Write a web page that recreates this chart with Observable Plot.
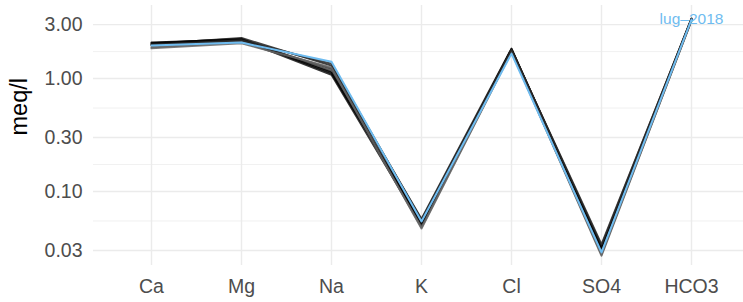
<!DOCTYPE html>
<html>
<head>
<meta charset="utf-8">
<script src="https://cdn.jsdelivr.net/npm/d3@7"></script>
<script src="https://cdn.jsdelivr.net/npm/@observablehq/plot@0.6"></script>
<style>
  html, body { margin: 0; padding: 0; background: #fff; }
  svg { display: block; }
</style>
</head>
<body>
<div id="chart"></div>
<script>
const ions = ["Ca", "Mg", "Na", "K", "Cl", "SO4", "HCO3"];
const yTicks = [0.03, 0.1, 0.3, 1, 3];
const yMinor = [0.0548, 0.1732, 0.5477, 1.732];

// grey/black samples (meq/l, one value per ion)
const sample1 = [2.05, 2.25, 1.15, 0.052, 1.82, 0.031, 3.35];
const sample2 = [2.00, 2.20, 1.08, 0.050, 1.80, 0.029, 3.30];
const sample3 = [1.95, 2.15, 1.22, 0.055, 1.78, 0.033, 3.40];
const sample4 = [2.02, 2.28, 1.30, 0.057, 1.84, 0.030, 3.32];
const sample5 = [1.88, 2.10, 1.18, 0.048, 1.75, 0.027, 3.28];
const sample6 = [2.08, 2.22, 1.12, 0.053, 1.81, 0.032, 3.36];
const sample7 = [1.85, 2.05, 1.25, 0.047, 1.72, 0.028, 3.25];
const sample8 = [1.98, 2.18, 1.35, 0.056, 1.79, 0.034, 3.38];
const samples = [sample1, sample2, sample3, sample4, sample5, sample6, sample7, sample8];
const sampleColors = ["#000000", "#111111", "#333333", "#222222", "#555555", "#000000", "#666666", "#2a2a2a"];

// highlighted sample
const highlightName = "lug\u20132018";
const highlight = [1.96, 2.08, 1.41, 0.0543, 1.66, 0.0289, 3.33];
const highlightColor = "#6fbcf0";

const rows = [];
samples.forEach((s, i) => s.forEach((v, j) => rows.push({sample: "s" + i, ion: ions[j], value: v, color: sampleColors[i]})));
const hl = highlight.map((v, j) => ({ion: ions[j], value: v}));

const font = "'Liberation Sans', Arial, Helvetica, sans-serif";

const chart = Plot.plot({
  width: 743,
  height: 302,
  marginLeft: 93,
  marginRight: 0,
  marginTop: 5,
  marginBottom: 37,
  style: {fontFamily: font, background: "#fff"},
  x: {type: "point", domain: ions, range: [148, 693], padding: 0, label: null, axis: null},
  y: {type: "log", domain: [0.0221, 4.43], label: null, axis: null},
  marks: [
    Plot.ruleY(yMinor, {stroke: "#ebebeb", strokeWidth: 0.7}),
    Plot.ruleY(yTicks, {stroke: "#ebebeb", strokeWidth: 1.4}),
    Plot.ruleX(ions, {x: d => d, stroke: "#ebebeb", strokeWidth: 1.4}),
    Plot.axisY(yTicks, {tickFormat: d3.format(".2f"), tickSize: 0, tickPadding: 11, fontSize: 19.5, fill: "#4d4d4d", label: null}),
    Plot.axisX(ions, {tickSize: 0, tickPadding: 14, fontSize: 19.5, fill: "#4d4d4d", label: null}),
    Plot.text(["meq/l"], {frameAnchor: "left", dx: -74, rotate: -90, fontSize: 23.5, fill: "#000"}),
    Plot.line(rows, {x: "ion", y: "value", z: "sample", stroke: "color", strokeWidth: 2, strokeOpacity: 0.85}),
    Plot.line(hl, {x: "ion", y: "value", stroke: highlightColor, strokeWidth: 2}),
    Plot.text(hl.slice(-1), {x: "ion", y: "value", text: () => highlightName, fill: highlightColor, fontSize: 15.5})
  ]
});
document.getElementById("chart").appendChild(chart);
</script>
</body>
</html>
